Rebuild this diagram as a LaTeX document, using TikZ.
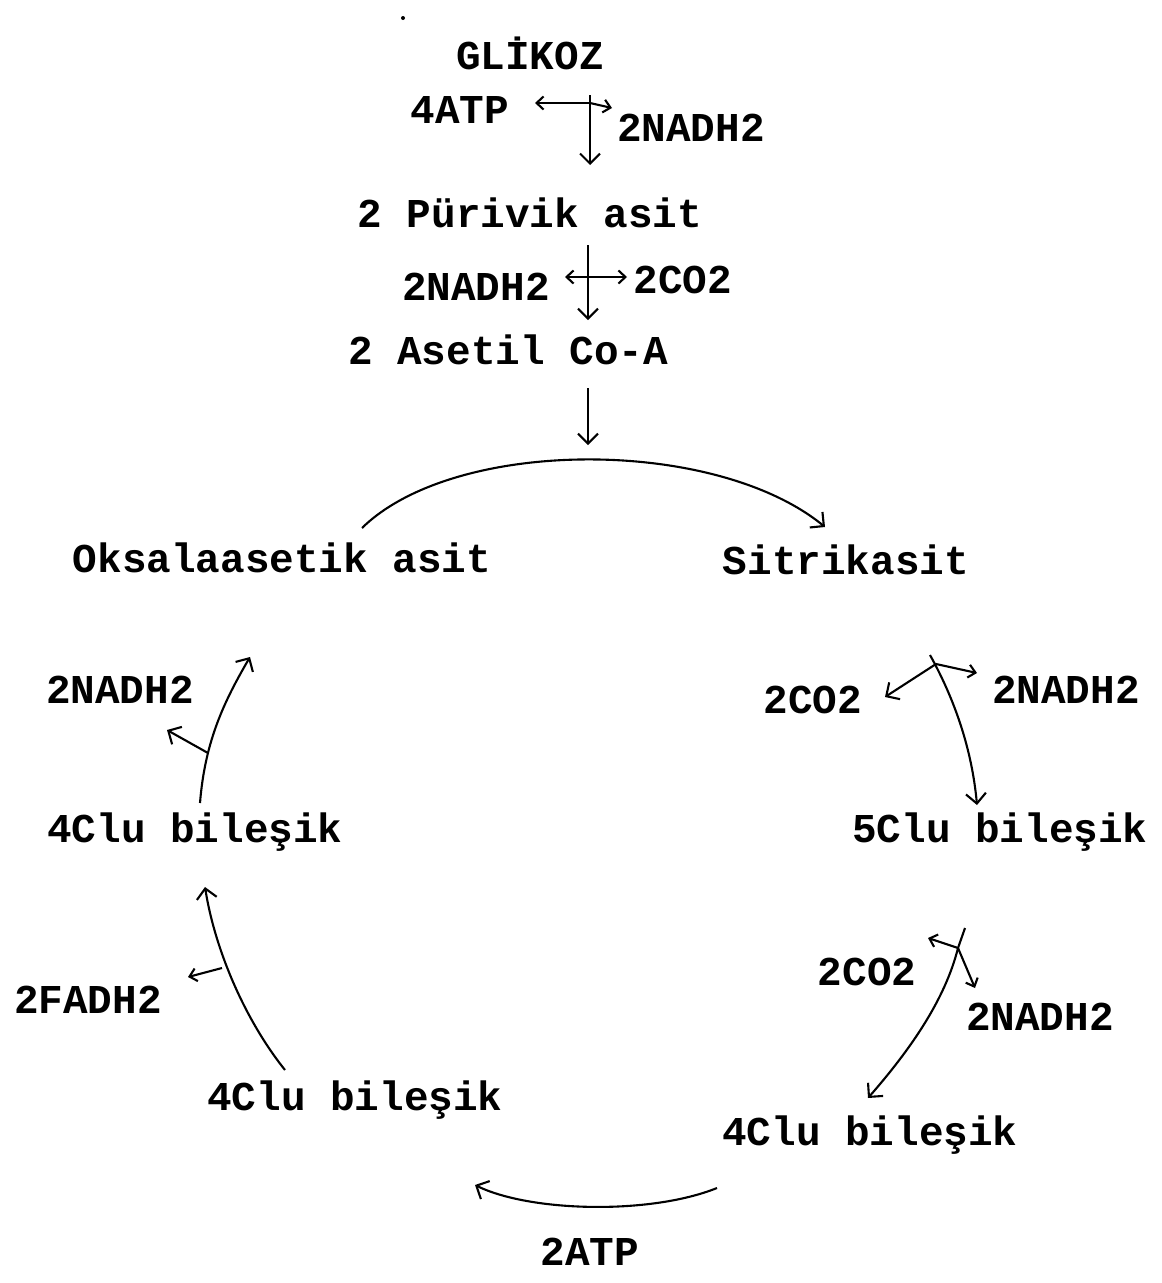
\documentclass[tikz,border=0pt]{standalone}
\usepackage{fontspec}
\setmonofont{Liberation Mono}
\usetikzlibrary{arrows.meta}
\tikzset{
  lbl/.style={font=\fontsize{41}{41}\selectfont\ttfamily\bfseries, inner sep=0pt, anchor=center},
  arr/.style={line width=2.1pt, -{Straight Barb[length=10pt,width=20pt,line width=2.1pt]}},
  sarr/.style={line width=2.1pt, -{Straight Barb[length=7pt,width=13pt,line width=2.1pt]}},
  ln/.style={line width=2.1pt}
}
\begin{document}
\begin{tikzpicture}[x=1pt,y=-1pt]
\useasboundingbox (0,0) rectangle (1162,1283);
\fill[white] (0,0) rectangle (1162,1283);
\fill (403,18) circle (2);
% labels
\node[lbl] (glikoz) at (530,53) {GLİKOZ};
\node[lbl] (atpA) at (460,110) {4ATP};
\node[lbl] (nadhA) at (691,128) {2NADH2};
\node[lbl] (purivik) at (530,213) {2 Pürivik asit};
\node[lbl] (nadhB) at (476,287) {2NADH2};
\node[lbl] (coA) at (683,280) {2CO2};
\node[lbl] (asetil) at (508,350) {2 Asetil Co-A};
\node[lbl] (oksal) at (282,558) {Oksalaasetik asit};
\node[lbl] (sitrik) at (846,560) {Sitrikasit};
\node[lbl] (coB) at (813,700) {2CO2};
\node[lbl] (nadhC) at (1066,690) {2NADH2};
\node[lbl] (cfive) at (1000,832) {5Clu bileşik};
\node[lbl] (coC) at (867,972) {2CO2};
\node[lbl] (nadhD) at (1040,1017) {2NADH2};
\node[lbl] (cfourR) at (870,1135) {4Clu bileşik};
\node[lbl] (atpB) at (590,1252) {2ATP};
\node[lbl] (cfourB) at (355,1100) {4Clu bileşik};
\node[lbl] (fadh) at (88,1000) {2FADH2};
\node[lbl] (cfourL) at (195,832) {4Clu bileşik};
\node[lbl] (nadhE) at (120,690) {2NADH2};
% coordinates
\coordinate (g1) at (590,95);
\coordinate (g2) at (590,165);
\coordinate (gb) at (590,103);
\coordinate (gl) at (535,103);
\coordinate (gr) at (612,108);
\coordinate (p1) at (588,245);
\coordinate (p2) at (588,320);
\coordinate (pb) at (588,277);
\coordinate (pl) at (565,277);
\coordinate (pr) at (627,277);
\coordinate (a1) at (588,388);
\coordinate (a2) at (588,445);
\coordinate (o1) at (362,528);
\coordinate (s1) at (825,527);
\coordinate (r1) at (930,655);
\coordinate (rb) at (936,664);
\coordinate (r2) at (977,805);
\coordinate (rco) at (885,697);
\coordinate (rna) at (977,673);
\coordinate (q0) at (965,928);
\coordinate (q1) at (958,948);
\coordinate (q2) at (868,1098);
\coordinate (qco) at (928,938);
\coordinate (qna) at (975,988);
\coordinate (b1) at (717,1188);
\coordinate (b2) at (475,1185);
\coordinate (l1) at (285,1070);
\coordinate (l2) at (205,887);
\coordinate (lb) at (222,968);
\coordinate (lf) at (188,977);
\coordinate (u1) at (200,803);
\coordinate (u2) at (250,657);
\coordinate (ub) at (208,753);
\coordinate (un) at (167,730);
% connectors
\draw[arr] (g1) -- (g2);
\draw[sarr] (gb) -- (gl);
\draw[sarr] (gb) -- (gr);
\draw[arr] (p1) -- (p2);
\draw[sarr] (pb) -- (pl);
\draw[sarr] (pb) -- (pr);
\draw[arr] (a1) -- (a2);
\draw[arr] (o1) .. controls (455,437) and (715,437) .. (s1);
\draw[arr] (r1) .. controls (955,700) and (972,750) .. (r2);
\draw[arr] (rb) -- (rco);
\draw[sarr] (rb) -- (rna);
\draw[ln] (q0) -- (q1);
\draw[arr] (q1) .. controls (945,1000) and (910,1050) .. (q2);
\draw[sarr] (q1) -- (qco);
\draw[sarr] (q1) -- (qna);
\draw[arr] (b1) .. controls (650,1215) and (530,1212) .. (b2);
\draw[arr] (l1) .. controls (245,1020) and (215,950) .. (l2);
\draw[sarr] (lb) -- (lf);
\draw[arr] (u1) .. controls (205,740) and (225,700) .. (u2);
\draw[arr] (ub) -- (un);
\end{tikzpicture}
\end{document}
